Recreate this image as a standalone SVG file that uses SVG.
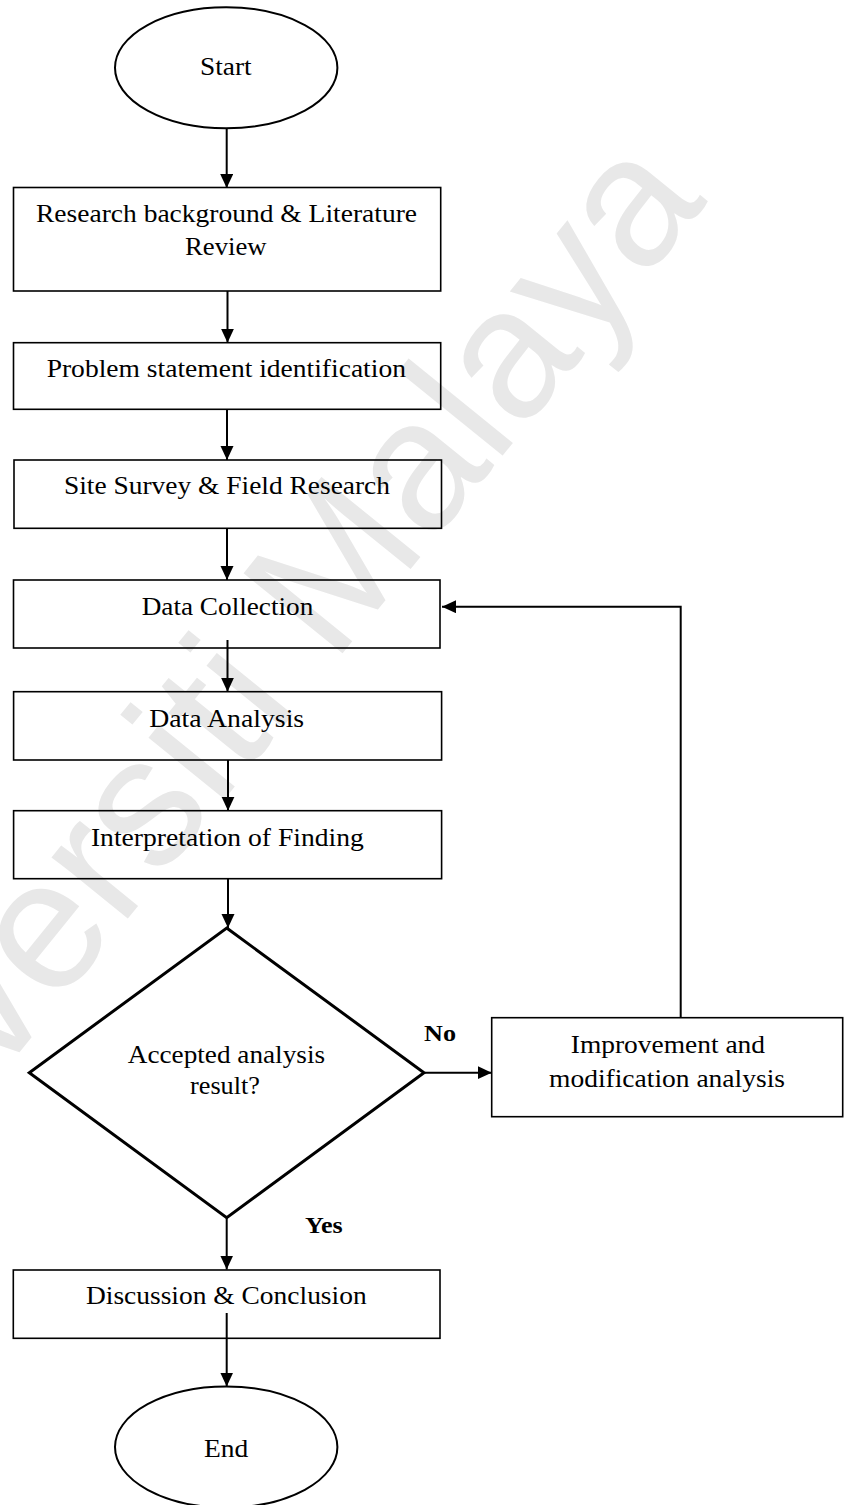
<svg xmlns="http://www.w3.org/2000/svg" width="848" height="1505" viewBox="0 0 848 1505">
  <style>
    .lbl { font-family: "Liberation Serif", "Times New Roman", serif; font-size: 26px; fill: #000; text-anchor: middle; }
    .tag { font-family: "Liberation Serif", "Times New Roman", serif; font-size: 24px; font-weight: bold; fill: #000; text-anchor: middle; }
    .box { fill: none; stroke: #000; stroke-width: 1.6; }
    .term { fill: none; stroke: #000; stroke-width: 2; }
    .dec { fill: none; stroke: #000; stroke-width: 3; stroke-linejoin: miter; }
    .flow { fill: none; stroke: #000; stroke-width: 2; }
    .wm { font-family: "Liberation Sans", Arial, sans-serif; font-size: 185px; fill: #e8e8e8; }
  </style>
  <defs>
    <marker id="arrow" markerUnits="userSpaceOnUse" markerWidth="14" markerHeight="14" refX="14" refY="6.5" orient="auto">
      <path d="M0,0 L14,6.5 L0,13 z" fill="#000"/>
    </marker>
  </defs>
  <rect x="0" y="0" width="848" height="1505" fill="#fff"/>

  <!-- background watermark -->
  <text class="wm" transform="translate(-178,1296) rotate(-51)">Universiti Malaya</text>

  <g id="start">
    <ellipse class="term" cx="226.2" cy="67.8" rx="111.2" ry="60.5"/>
    <text class="lbl" x="225.8" y="75" textLength="51.7" lengthAdjust="spacingAndGlyphs">Start</text>
  </g>

  <g id="literature">
    <rect class="box" x="13.5" y="187.5" width="427.2" height="103.5"/>
    <text class="lbl" x="226.5" y="221.7" textLength="381" lengthAdjust="spacingAndGlyphs">Research background &amp; Literature</text>
    <text class="lbl" x="225.8" y="255" textLength="81.7" lengthAdjust="spacingAndGlyphs">Review</text>
  </g>

  <g id="problem">
    <rect class="box" x="13.5" y="342.7" width="427.2" height="66.6"/>
    <text class="lbl" x="226.3" y="376.7" textLength="359.3" lengthAdjust="spacingAndGlyphs">Problem statement identification</text>
  </g>

  <g id="survey">
    <rect class="box" x="14" y="460" width="427.5" height="68.3"/>
    <text class="lbl" x="227" y="494" textLength="326" lengthAdjust="spacingAndGlyphs">Site Survey &amp; Field Research</text>
  </g>

  <g id="collection">
    <rect class="box" x="13.5" y="580" width="426.5" height="68"/>
    <text class="lbl" x="227.5" y="615" textLength="171.7" lengthAdjust="spacingAndGlyphs">Data Collection</text>
  </g>

  <g id="analysis">
    <rect class="box" x="13.6" y="691.7" width="428" height="68.3"/>
    <text class="lbl" x="226.7" y="726.7" textLength="155" lengthAdjust="spacingAndGlyphs">Data Analysis</text>
  </g>

  <g id="interpretation">
    <rect class="box" x="13.6" y="810.7" width="428" height="68"/>
    <text class="lbl" x="227.4" y="845.7" textLength="273" lengthAdjust="spacingAndGlyphs">Interpretation of Finding</text>
  </g>

  <g id="decision">
    <polygon class="dec" points="226.7,928 424,1072.7 226.7,1217.7 29.3,1072.7"/>
    <text class="lbl" x="226.4" y="1063.3" textLength="197.3" lengthAdjust="spacingAndGlyphs">Accepted analysis</text>
    <text class="lbl" x="225" y="1094" textLength="70" lengthAdjust="spacingAndGlyphs">result?</text>
  </g>

  <g id="improvement">
    <rect class="box" x="491.7" y="1017.7" width="351" height="99"/>
    <text class="lbl" x="667.9" y="1052.7" textLength="194.3" lengthAdjust="spacingAndGlyphs">Improvement and</text>
    <text class="lbl" x="667" y="1086.7" textLength="236" lengthAdjust="spacingAndGlyphs">modification analysis</text>
  </g>

  <g id="discussion">
    <rect class="box" x="13.3" y="1270" width="426.7" height="68.3"/>
    <text class="lbl" x="226.3" y="1304" textLength="280.7" lengthAdjust="spacingAndGlyphs">Discussion &amp; Conclusion</text>
  </g>

  <g id="end">
    <ellipse class="term" cx="226.2" cy="1447" rx="111.2" ry="60.5"/>
    <text class="lbl" x="226.2" y="1456.7" textLength="44.3" lengthAdjust="spacingAndGlyphs">End</text>
  </g>

  <g id="connectors">
    <line class="flow" x1="226.7" y1="128.5" x2="226.7" y2="188" marker-end="url(#arrow)"/>
    <line class="flow" x1="227.5" y1="291" x2="227.5" y2="342.7" marker-end="url(#arrow)"/>
    <line class="flow" x1="227" y1="409.3" x2="227" y2="460" marker-end="url(#arrow)"/>
    <line class="flow" x1="227" y1="528.3" x2="227" y2="580" marker-end="url(#arrow)"/>
    <line class="flow" x1="227.5" y1="640" x2="227.5" y2="691.7" marker-end="url(#arrow)"/>
    <line class="flow" x1="228" y1="760" x2="228" y2="810.7" marker-end="url(#arrow)"/>
    <line class="flow" x1="228" y1="878.7" x2="228" y2="928" marker-end="url(#arrow)"/>
    <line class="flow" x1="226.7" y1="1217.7" x2="226.7" y2="1269.5" marker-end="url(#arrow)"/>
    <line class="flow" x1="226.7" y1="1313" x2="226.7" y2="1386.5" marker-end="url(#arrow)"/>
    <line class="flow" x1="425" y1="1072.7" x2="491.7" y2="1072.7" marker-end="url(#arrow)"/>
    <polyline class="flow" points="680.7,1017.7 680.7,606.7 442,606.7" marker-end="url(#arrow)"/>
    <text class="tag" x="440" y="1041" textLength="32" lengthAdjust="spacingAndGlyphs">No</text>
    <text class="tag" x="323.8" y="1233.3" textLength="37.7" lengthAdjust="spacingAndGlyphs">Yes</text>
  </g>
</svg>
